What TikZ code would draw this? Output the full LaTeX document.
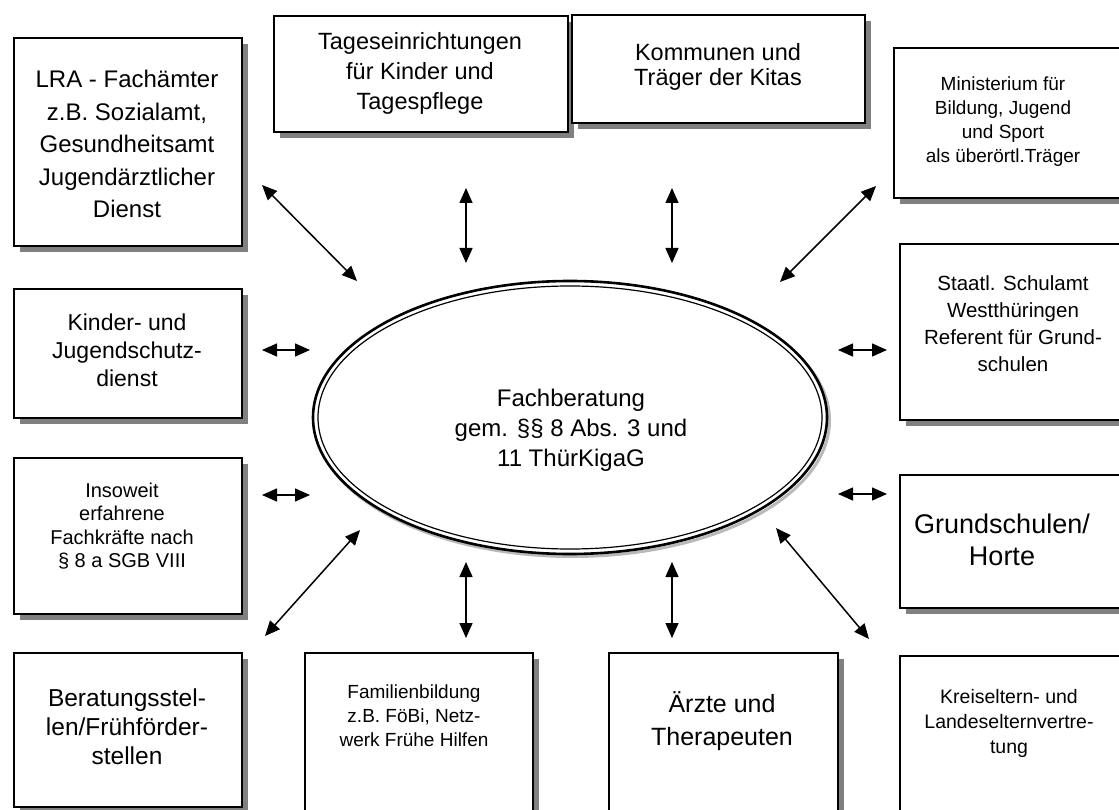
\documentclass[tikz,border=0pt]{standalone}
\usepackage{fontspec}
\setmainfont{Liberation Sans}
\usetikzlibrary{arrows.meta,shapes.geometric,shadows}
\definecolor{shadowgray}{RGB}{128,128,128}
\definecolor{ellshadow}{RGB}{185,185,185}
\tikzset{
  box/.style={draw=black, line width=1.8pt, fill=white, rectangle, inner sep=0pt, anchor=north west,
    drop shadow={shadow xshift=6pt, shadow yshift=-6pt, fill=shadowgray, opacity=1}},
  txt/.style={align=center, inner sep=0pt, text=black},
  link/.style={line width=1.5pt, {Triangle[length=15pt,width=13pt]}-{Triangle[length=15pt,width=13pt]}},
}
\begin{document}
\begin{tikzpicture}[x=1pt,y=-1pt]
\useasboundingbox (0,0) rectangle (1119,810);
\clip (0,0) rectangle (1119,810);
\fill[white] (0,0) rectangle (1119,810);

% boxes
\node[box, minimum width=228pt, minimum height=208pt] (lra) at (13,37) {};
\node[box, minimum width=294pt, minimum height=116pt] (tage) at (273,15) {};
\node[box, minimum width=293pt, minimum height=108pt] (komm) at (571,14) {};
\node[box, minimum width=242pt, minimum height=150pt] (mini) at (893,47) {};
\node[box, minimum width=228pt, minimum height=129pt] (kind) at (13,288) {};
\node[box, minimum width=237pt, minimum height=176pt] (staat) at (899,243) {};
\node[box, minimum width=228pt, minimum height=156pt] (inso) at (13,457) {};
\node[box, minimum width=237pt, minimum height=133pt] (grund) at (899,474) {};
\node[box, minimum width=228pt, minimum height=154pt] (bera) at (13,652) {};
\node[box, minimum width=228pt, minimum height=180pt] (fami) at (304,652) {};
\node[box, minimum width=229pt, minimum height=180pt] (aerzte) at (608,652) {};
\node[box, minimum width=236pt, minimum height=175pt] (kreis) at (899,655) {};

% box texts
\node[txt, font=\fontsize{24}{32.5}\selectfont] (lraT) at (127,144) {LRA - Fachämter\\z.B. Sozialamt,\\Gesundheitsamt\\Jugendärztlicher\\Dienst};
\node[txt, font=\fontsize{23.5}{30}\selectfont] (tageT) at (420,73) {Tageseinrichtungen\\für Kinder und\\Tagespflege};
\node[txt, font=\fontsize{23.5}{25.5}\selectfont] (kommT) at (718,67) {Kommunen und\\Träger der Kitas};
\node[txt, font=\fontsize{19}{24}\selectfont] (miniT) at (1003,122) {Ministerium für\\Bildung, Jugend\\und Sport\\als überörtl.Träger};
\node[txt, font=\fontsize{23}{28}\selectfont] (kindT) at (127,350) {Kinder- und\\Jugendschutz-\\dienst};
\node[txt, font=\fontsize{20.5}{27}\selectfont] (staatT) at (1013,324) {Staatl. Schulamt\\Westthüringen\\Referent für Grund-\\schulen};
\node[txt, font=\fontsize{20}{23.5}\selectfont] (insoT) at (122,526) {Insoweit\\erfahrene\\Fachkräfte nach\\§ 8 a SGB VIII};
\node[txt, font=\fontsize{27}{32}\selectfont] (grundT) at (1002,540) {Grundschulen/\\Horte};
\node[txt, font=\fontsize{24.5}{29}\selectfont] (beraT) at (127,727) {Beratungsstel-\\len/Frühförder-\\stellen};
\node[txt, font=\fontsize{19}{24}\selectfont] (famiT) at (414,716) {Familienbildung\\z.B. FöBi, Netz-\\werk Frühe Hilfen};
\node[txt, font=\fontsize{25}{33}\selectfont] (aerzteT) at (722,721) {Ärzte und\\Therapeuten};
\node[txt, font=\fontsize{19.5}{25}\selectfont] (kreisT) at (1009,723) {Kreiseltern- und\\Landeselternvertre-\\tung};

% central ellipse
\coordinate (ellc) at (570,417.5);
\draw[ellshadow, line width=3pt] ([shift={(2.5pt,-3pt)}]ellc) ellipse [x radius=257pt, y radius=136pt];
\node[ellipse, draw=black, fill=white, line width=2.6pt, minimum width=514pt, minimum height=273pt, inner sep=0pt] (fach) at (ellc) {};
\draw[black, line width=1.2pt] (fach.center) ellipse [x radius=252pt, y radius=131.5pt];
\node[txt, font=\fontsize{24}{30}\selectfont] (fachT) at (571,430) {Fachberatung\\gem. §§ 8 Abs. 3 und\\11 ThürKigaG};

% arrow end points
\coordinate (a1s) at (262,185);  \coordinate (a1e) at (357,281);
\coordinate (a2s) at (466,188);  \coordinate (a2e) at (466,263);
\coordinate (a3s) at (672,188);  \coordinate (a3e) at (672,263);
\coordinate (a4s) at (876,186);  \coordinate (a4e) at (780,282);
\coordinate (a5s) at (262,350);  \coordinate (a5e) at (310,350);
\coordinate (a6s) at (838,350);  \coordinate (a6e) at (887,350);
\coordinate (a7s) at (262,495);  \coordinate (a7e) at (310,495);
\coordinate (a8s) at (838,494);  \coordinate (a8e) at (887,494);
\coordinate (a9s) at (360,530);  \coordinate (a9e) at (265,636);
\coordinate (a10s) at (466,562); \coordinate (a10e) at (466,638);
\coordinate (a11s) at (672,562); \coordinate (a11e) at (672,638);
\coordinate (a12s) at (776,528); \coordinate (a12e) at (869,639);

\foreach \i in {1,...,12} {\draw[link] (a\i s) -- (a\i e);}
\end{tikzpicture}
\end{document}
